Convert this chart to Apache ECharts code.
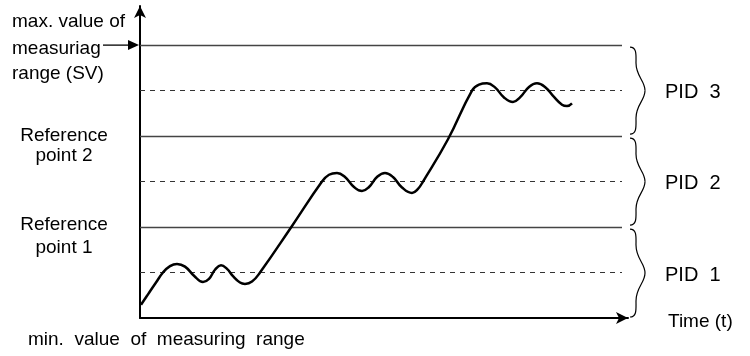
<!DOCTYPE html>
<html>
<head>
<meta charset="utf-8">
<script src="https://cdn.jsdelivr.net/npm/echarts@6/dist/echarts.min.js"></script>
<style>html,body{margin:0;padding:0;background:#fff}#c{width:750px;height:356px}</style>
</head>
<body>
<div id="c"></div>
<script>
// Time values (arbitrary units) and process value (levels: 0 = min, 6 = max of measuring range)
var timeVals = [1,8,16,23,30,37,45,54,63,69,75,81,87,93,100,105,112,120,151,
  182,189,197,205,214,222,229,237,245,253,262,272,278,283,308,332,
  339,347,355,364,373,380,389,397,405,414,422,427,432];
var pvVals = [0.29,0.52,0.78,1.0,1.14,1.19,1.13,0.93,0.79,0.86,1.06,1.16,1.08,0.92,0.78,0.75,0.80,1.0,1.99,
  3.0,3.15,3.19,3.10,2.88,2.79,2.88,3.10,3.19,3.10,2.87,2.75,2.84,3.0,3.93,5.0,
  5.13,5.16,5.07,4.85,4.75,4.85,5.08,5.16,5.08,4.86,4.69,4.66,4.72];
var solidLevels = [2,4,6];
var dashedLevels = [1,3,5];
var lineEnd = 482;
var xMax = 488, yMax = 6.86;
var pidLabels = ['PID  1','PID  2','PID  3'];

var chart = echarts.init(document.getElementById('c'));
var curve = timeVals.map(function(t,i){return [t,pvVals[i]];});
var markData = [];
solidLevels.forEach(function(v){
  markData.push([{coord:[0,v],lineStyle:{type:'solid',color:'#444',width:1.4}},{coord:[lineEnd,v]}]);
});
dashedLevels.forEach(function(v){
  markData.push([{coord:[0,v],lineStyle:{type:[5,5],color:'#333',width:1}},{coord:[lineEnd,v]}]);
});
var FONT = 'Liberation Sans';
chart.setOption({
  animation:false,
  grid:{left:140,right:122,top:6,bottom:38},
  xAxis:{type:'value',min:0,max:xMax,
    axisLine:{show:true,lineStyle:{color:'#000',width:2},symbol:['none','arrow'],symbolSize:[9,12]},
    axisTick:{show:false},axisLabel:{show:false},splitLine:{show:false}},
  yAxis:{type:'value',min:0,max:yMax,
    axisLine:{show:true,lineStyle:{color:'#000',width:2},symbol:['none','arrow'],symbolSize:[9,12]},
    axisTick:{show:false},axisLabel:{show:false},splitLine:{show:false}},
  series:[{
    type:'line',data:curve,smooth:0.45,showSymbol:false,
    lineStyle:{color:'#000',width:2.5},z:5,
    markLine:{silent:true,symbol:['none','none'],label:{show:false},animation:false,data:markData}
  }]
});

function px(x,y){return chart.convertToPixel({gridIndex:0},[x,y]);}
var g = [];
function txt(s,x,y,size,align){
  g.push({type:'text',style:{text:s,x:x,y:y,fontSize:size,fontFamily:FONT,fill:'#000',align:align||'left',verticalAlign:'middle'}});
}
function bez(p0,c1,c2,p1){
  g.push({type:'bezierCurve',shape:{x1:p0[0],y1:p0[1],cpx1:c1[0],cpy1:c1[1],cpx2:c2[0],cpy2:c2[1],x2:p1[0],y2:p1[1]},
    style:{stroke:'#000',lineWidth:1.2,fill:null}});
}
txt('max. value of',12,21.5,19);
txt('measuriag',12,48.5,19);
txt('range (SV)',12,73.5,19);
txt('Reference',64,135.5,19,'center');
txt('point 2',64,156,19,'center');
txt('Reference',64,225,19,'center');
txt('point 1',64,248,19,'center');
txt('min.  value  of  measuring  range',28,340,19);
txt('Time (t)',668,322,19);

// arrow pointing at max of measuring range
var pMax = px(0,6);
g.push({type:'line',shape:{x1:103,y1:pMax[1],x2:130,y2:pMax[1]},style:{stroke:'#000',lineWidth:1.3}});
g.push({type:'polygon',shape:{points:[[128,pMax[1]-5],[139,pMax[1]],[128,pMax[1]+5]]},style:{fill:'#000'}});

// braces and PID labels
var bounds = [[0,2],[2,4],[4,6]];
bounds.forEach(function(b,i){
  var yB = px(0,b[0])[1]-2, yT = px(0,b[1])[1]+2;
  if(i===0) yB = px(0,b[0])[1]-1;
  var x0 = 630, ym = (yT+yB)/2;
  bez([x0,yT],[x0+7,yT],[x0+6,yT+8],[x0+6,yT+16]);
  bez([x0+6,yT+16],[x0+6,ym-14],[x0+15,ym-10],[x0+15,ym]);
  bez([x0+15,ym],[x0+15,ym+10],[x0+6,ym+14],[x0+6,yB-16]);
  bez([x0+6,yB-16],[x0+6,yB-8],[x0+7,yB],[x0,yB]);
  txt(pidLabels[i],665,ym+2,20);
});
chart.setOption({graphic:g});
</script>
</body>
</html>
